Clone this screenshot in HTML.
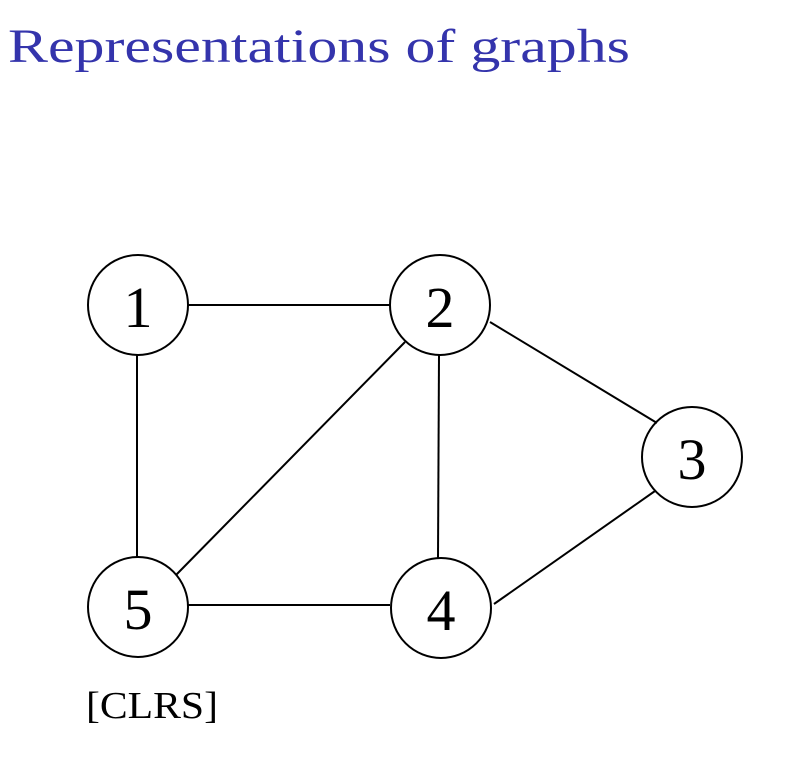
<!DOCTYPE html>
<html><head><meta charset="utf-8"><style>
body{margin:0;background:#fff;width:790px;height:760px;overflow:hidden}
</style></head><body>
<svg width="790" height="760" xmlns="http://www.w3.org/2000/svg" style="position:absolute;left:0;top:0">
<text x="8" y="62" font-family="Liberation Serif, serif" font-size="48" fill="#3434ac" textLength="622" lengthAdjust="spacingAndGlyphs">Representations of graphs</text>
<g stroke="#000" stroke-width="2" fill="none">
<line x1="188" y1="305" x2="390" y2="305"/>
<line x1="137" y1="355" x2="137" y2="557"/>
<line x1="405" y1="342" x2="176" y2="575"/>
<line x1="439" y1="355" x2="438" y2="558"/>
<line x1="490" y1="322" x2="657" y2="423"/>
<line x1="655" y1="491" x2="494" y2="604"/>
<line x1="188" y1="605" x2="390" y2="605"/>
<circle cx="138" cy="305" r="50"/>
<circle cx="440" cy="305" r="50"/>
<circle cx="692" cy="457" r="50"/>
<circle cx="138" cy="607" r="50"/>
<circle cx="441" cy="608" r="50"/>
</g>
<g font-family="Liberation Serif, serif" font-size="58" text-anchor="middle" fill="#000">
<text x="138" y="327">1</text>
<text x="440" y="327">2</text>
<text x="692" y="479">3</text>
<text x="138" y="629">5</text>
<text x="441" y="630">4</text>
</g>
<text x="86" y="718" font-family="Liberation Serif, serif" font-size="38" fill="#000" textLength="132" lengthAdjust="spacingAndGlyphs">[CLRS]</text>
</svg>
</body></html>
